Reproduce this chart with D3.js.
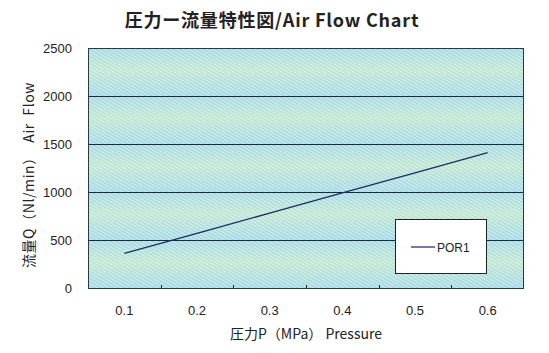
<!DOCTYPE html>
<html>
<head>
<meta charset="utf-8">
<script src="https://cdn.jsdelivr.net/npm/d3@7"></script>
<style>
  body { margin: 0; background: #fff; }
  text { font-family: "Liberation Sans", Arial, sans-serif; fill: #222; white-space: pre; }
  .jp { font-family: "Noto Sans CJK JP", sans-serif; }
</style>
</head>
<body>
<div id="chart"></div>
<script>
// chart data
var pressures = ["0.1", "0.2", "0.3", "0.4", "0.5", "0.6"];
var flowPOR1 = [360, 570, 780, 990, 1200, 1410];
var yTicks = [0, 500, 1000, 1500, 2000, 2500];
var seriesName = "POR1";

var w = 549, h = 353;
var padL = 88, padR = 524, padT = 48, padB = 288;

var svg = d3.select("#chart").append("svg")
    .attr("width", w)
    .attr("height", h);

var xScale = d3.scaleBand().domain(pressures).range([padL, padR]);
var yScale = d3.scaleLinear().domain([0, 2500]).range([padB, padT]);

// background fill: banded gradient + diagonal hatching
var defs = svg.append("defs");
var grad = defs.append("linearGradient")
    .attr("id", "band").attr("x1", 0).attr("y1", 0).attr("x2", 0).attr("y2", 1);
grad.append("stop").attr("offset", "0%").attr("stop-color", "#a3d9e6");
grad.append("stop").attr("offset", "45%").attr("stop-color", "#bde6cf");
grad.append("stop").attr("offset", "100%").attr("stop-color", "#a3d9e6");

var bandH = yScale(0) - yScale(500);
var bandPat = defs.append("pattern")
    .attr("id", "bands").attr("patternUnits", "userSpaceOnUse")
    .attr("x", 0).attr("y", padT).attr("width", 10).attr("height", bandH);
bandPat.append("rect").attr("width", 10).attr("height", bandH).attr("fill", "url(#band)");

var hatch = defs.append("pattern")
    .attr("id", "hatch").attr("patternUnits", "userSpaceOnUse")
    .attr("width", 3).attr("height", 3)
    .attr("patternTransform", "rotate(-60)");
hatch.append("rect").attr("width", 1).attr("height", 3).attr("fill", "rgba(255,255,255,0.5)");

svg.append("rect")
    .attr("x", padL).attr("y", padT)
    .attr("width", padR - padL).attr("height", padB - padT)
    .attr("fill", "url(#bands)");
svg.append("rect")
    .attr("x", padL).attr("y", padT)
    .attr("width", padR - padL).attr("height", padB - padT)
    .attr("fill", "url(#hatch)");

// horizontal gridlines
svg.selectAll(".grid").data(yTicks.filter(d => d > 0))
    .enter().append("line")
    .attr("x1", padL).attr("x2", padR)
    .attr("y1", d => Math.round(yScale(d)) + 0.5)
    .attr("y2", d => Math.round(yScale(d)) + 0.5)
    .attr("stroke", "#1e2b35").attr("stroke-width", 1);

// plot border
svg.append("rect")
    .attr("x", padL + 0.5).attr("y", padT + 0.5)
    .attr("width", padR - padL - 1).attr("height", padB - padT)
    .attr("fill", "none").attr("stroke", "#2a3a44").attr("stroke-width", 1);

// y axis labels
svg.append("g")
    .attr("transform", `translate(${padL},0)`)
    .call(d3.axisLeft(yScale).tickValues(yTicks).tickFormat(d3.format("d")).tickSize(0).tickPadding(16))
    .call(g => g.select(".domain").remove())
    .selectAll("text")
    .style("font-family", "Liberation Sans, Arial, sans-serif")
    .style("font-size", "13px")
    .attr("fill", "#222");

// x axis: ticks between categories, labels at centres
var xAxis = svg.append("g")
    .attr("transform", `translate(0,${padB})`)
    .call(d3.axisBottom(xScale).tickSize(0).tickPadding(18))
    .call(g => g.select(".domain").remove());
xAxis.selectAll("text")
    .style("font-family", "Liberation Sans, Arial, sans-serif")
    .style("font-size", "13px")
    .attr("fill", "#222");
svg.selectAll(".xtick").data(pressures.slice(1))
    .enter().append("line")
    .attr("x1", d => Math.round(xScale(d)) + 0.5)
    .attr("x2", d => Math.round(xScale(d)) + 0.5)
    .attr("y1", padB).attr("y2", padB - 3)
    .attr("stroke", "#222");

// series line
var line = d3.line()
    .x((d, i) => xScale(pressures[i]) + xScale.bandwidth() / 2)
    .y(d => yScale(d));
svg.append("path")
    .datum(flowPOR1)
    .attr("d", line)
    .attr("fill", "none")
    .attr("stroke", "#1c2c66")
    .attr("stroke-width", 1.3);

// legend
var lg = svg.append("g");
lg.append("rect")
    .attr("x", 395.5).attr("y", 219.5).attr("width", 91).attr("height", 54)
    .attr("fill", "#fff").attr("stroke", "#222");
lg.append("line")
    .attr("x1", 411).attr("x2", 435).attr("y1", 247).attr("y2", 247)
    .attr("stroke", "#2a2f8a").attr("stroke-width", 1.3);
lg.append("text")
    .attr("x", 437).attr("y", 251.5)
    .style("font-size", "12px")
    .text(seriesName);

// title
svg.append("text")
    .attr("class", "jp")
    .attr("x", 272).attr("y", 27)
    .attr("text-anchor", "middle")
    .style("font-size", "18px").style("font-weight", "bold")
    .style("letter-spacing", "0.8px")
    .text("圧力ー流量特性図/Air Flow Chart");

// axis titles
svg.append("text")
    .attr("class", "jp")
    .attr("x", 306).attr("y", 339)
    .attr("text-anchor", "middle")
    .style("font-size", "14px")
    .text("圧力P（MPa） Pressure");

svg.append("text")
    .attr("class", "jp")
    .attr("transform", "translate(34,175) rotate(-90)")
    .attr("text-anchor", "middle")
    .style("font-size", "14px")
    .style("letter-spacing", "0.6px")
    .text("流量Q（Nl/min）  Air  Flow");
</script>
</body>
</html>
